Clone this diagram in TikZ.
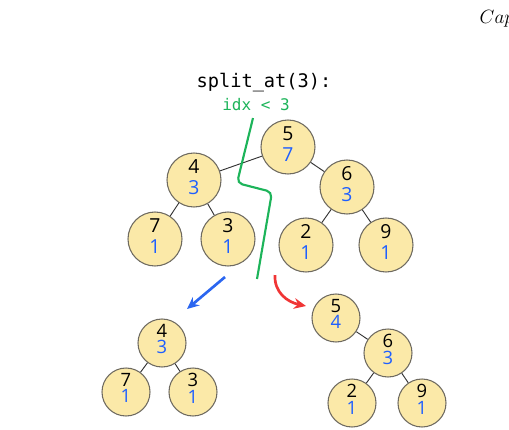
\documentclass[tikz,border=0pt]{standalone}
\usepackage{fontspec}
\setmainfont{Open Sans}
\setmonofont{DejaVu Sans Mono}
\usetikzlibrary{arrows.meta}
\definecolor{nodefill}{HTML}{FBE9A8}
\definecolor{nodeborder}{HTML}{6E6A60}
\definecolor{numblue}{HTML}{1F5FFF}
\definecolor{cutgreen}{HTML}{1DB45A}
\definecolor{arrblue}{HTML}{2B66F0}
\definecolor{arrred}{HTML}{F03535}
\tikzset{
  tnode/.style={circle, draw=nodeborder, fill=nodefill, line width=0.8pt, minimum size=40.5pt, inner sep=0pt, align=center, font=\fontsize{14.5}{15.5}\selectfont},
  bnode/.style={tnode, minimum size=36pt, font=\fontsize{13.8}{12.5}\selectfont},
  edge/.style={draw=black!80, line width=0.7pt}
}
\newcommand{\nv}[3]{#1\\\textcolor{numblue}{#2}\rule[-#3]{0pt}{0pt}}
\begin{document}
\begin{tikzpicture}[x=0.75pt,y=-0.75pt]
\useasboundingbox (0,0) rectangle (509,429);
\clip (0,0) rectangle (509,429);
\node[anchor=west, font=\fontsize{15}{17}\selectfont] (cap) at (475,19) {$Cap$};
\node[font=\ttfamily\fontsize{14}{16}\selectfont] (title) at (264,83) {split\_at(3):};
\node[font=\ttfamily\fontsize{12}{14}\selectfont, text=cutgreen] (idx) at (256,105) {idx < 3};
% top tree
\node[tnode] (a5) at (288,147) {\nv{5}{7}{4.5pt}};
\node[tnode] (a4) at (194,180) {\nv{4}{3}{4.5pt}};
\node[tnode] (a6) at (347,187) {\nv{6}{3}{4.5pt}};
\node[tnode] (a7) at (155,239) {\nv{7}{1}{4.5pt}};
\node[tnode] (a3) at (228,239) {\nv{3}{1}{4.5pt}};
\node[tnode] (a2) at (306,245) {\nv{2}{1}{4.5pt}};
\node[tnode] (a9) at (386,245) {\nv{9}{1}{4.5pt}};
\path[edge] (a5) -- (a4);
\path[edge] (a5) -- (a6);
\path[edge] (a4) -- (a7);
\path[edge] (a4) -- (a3);
\path[edge] (a6) -- (a2);
\path[edge] (a6) -- (a9);
% cut line
\coordinate (g1) at (253,118);
\coordinate (g2) at (237,183);
\coordinate (g3) at (272,192);
\coordinate (g4) at (257,279);
\draw[cutgreen, line width=1.6pt, rounded corners=4pt] (g1) -- (g2) -- (g3) -- (g4);
% arrows
\coordinate (b1) at (225,277);
\coordinate (b2) at (187,309);
\draw[arrblue, line width=2pt, -{Stealth[length=9pt,width=8pt]}] (b1) -- (b2);
\coordinate (r1) at (275,275);
\coordinate (r2) at (306,306);
\draw[arrred, line width=2pt, -{Stealth[length=9pt,width=8pt]}] (r1) .. controls (274,292) and (287,302) .. (r2);
% bottom left
\node[bnode] (l4) at (162,343) {\nv{4}{3}{6pt}};
\node[bnode] (l7) at (126,392) {\nv{7}{1}{6pt}};
\node[bnode] (l3) at (193,392) {\nv{3}{1}{6pt}};
\path[edge] (l4) -- (l7);
\path[edge] (l4) -- (l3);
% bottom right
\node[bnode] (r5) at (336,318) {\nv{5}{4}{6pt}};
\node[bnode] (r6) at (388,353) {\nv{6}{3}{6pt}};
\node[bnode] (r2n) at (352,403) {\nv{2}{1}{6pt}};
\node[bnode] (r9) at (422,403) {\nv{9}{1}{6pt}};
\path[edge] (r5) -- (r6);
\path[edge] (r6) -- (r2n);
\path[edge] (r6) -- (r9);
\end{tikzpicture}
\end{document}
